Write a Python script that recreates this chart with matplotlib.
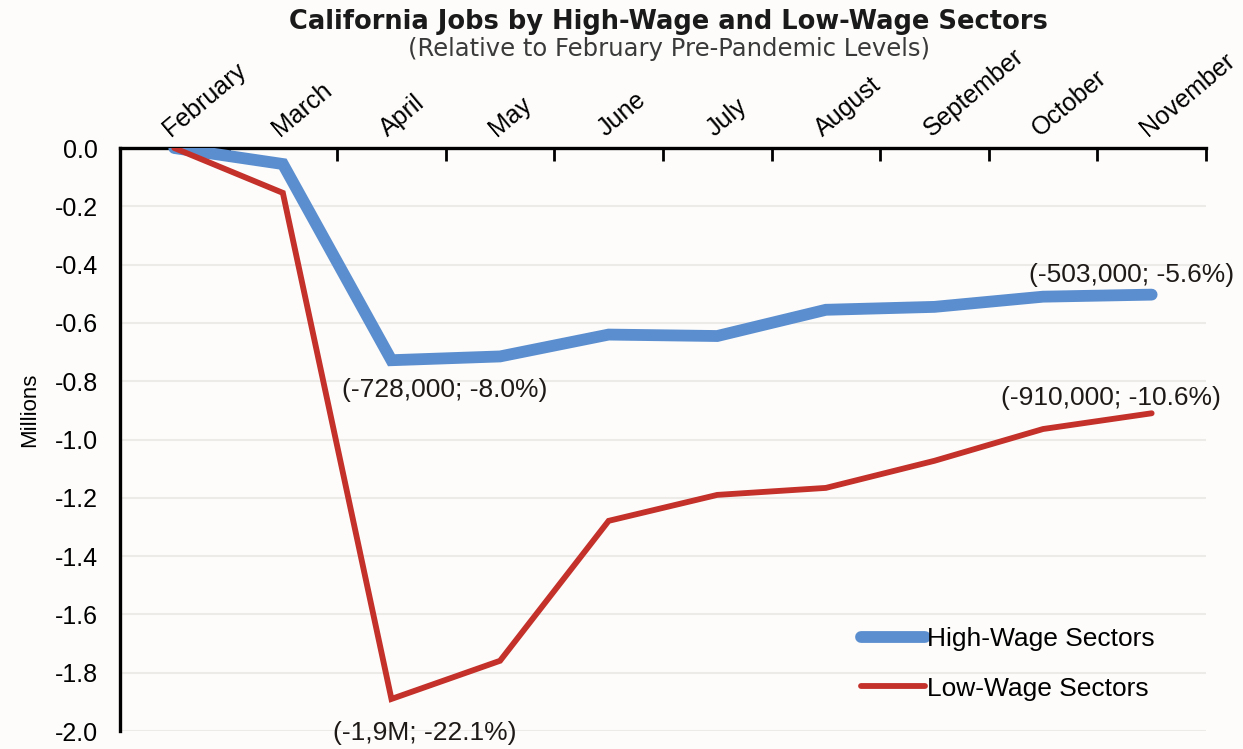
import matplotlib.pyplot as plt
import numpy as np

months = ["February", "March", "April", "May", "June", "July",
          "August", "September", "October", "November"]
high_wage = [0.0, -0.055, -0.728, -0.715, -0.640, -0.645,
             -0.555, -0.545, -0.510, -0.503]
low_wage = [0.0, -0.154, -1.890, -1.759, -1.279, -1.190,
            -1.166, -1.073, -0.964, -0.910]
y_ticks = [0.0, -0.2, -0.4, -0.6, -0.8, -1.0, -1.2, -1.4, -1.6, -1.8, -2.0]

plt.rcParams["font.family"] = ["Liberation Sans", "DejaVu Sans"]

blue = "#5B8ECF"
red = "#C4302A"
bg = "#FDFCFA"

fig = plt.figure(figsize=(12.43, 7.49), dpi=100)
fig.patch.set_facecolor(bg)
ax = fig.add_axes([0.0965, 0.0240, 0.8737, 0.7784])
ax.set_facecolor(bg)

x = np.arange(len(months))
ax.plot(x, high_wage, color=blue, linewidth=8.5, solid_joinstyle="miter",
        solid_capstyle="round", label="High-Wage Sectors", zorder=3)
ax.plot(x, low_wage, color=red, linewidth=4.2, solid_joinstyle="miter",
        solid_capstyle="round", label="Low-Wage Sectors", zorder=4)

ax.set_xlim(-0.5, len(months) - 0.5)
ax.set_ylim(-2.0, 0.0)
ax.set_yticks(y_ticks)
ax.set_yticklabels([f"{v:.1f}" if v != 0 else "0.0" for v in y_ticks])
ax.yaxis.grid(True, color="#ECEBE8", linewidth=1.5)
ax.set_axisbelow(True)

# month names along the top, tick marks sit between months
ax.xaxis.tick_top()
ax.set_xticks(x)
ax.set_xticklabels(months, rotation=40, ha="left", va="bottom",
                   rotation_mode="anchor", fontsize=18)
ax.set_xticks(np.arange(0.5, len(months), 1.0), minor=True)
ax.tick_params(axis="x", which="major", length=0, pad=5)
ax.tick_params(axis="x", which="minor", direction="in", length=9,
               width=2, top=True, bottom=False)
ax.tick_params(axis="y", length=0, pad=16, labelsize=18)

for side in ["right", "bottom"]:
    ax.spines[side].set_visible(False)
ax.spines["top"].set_linewidth(2.4)
ax.spines["left"].set_linewidth(2.4)

fig.text(30 / 1243, 1 - 410 / 749, "Millions", rotation=90, fontsize=16,
         ha="center", va="center")

lab_kw = dict(fontsize=19, color="#1E1A18", ha="center", va="center",
              textcoords="offset pixels")
ax.annotate(f"({high_wage[2] * 1e6:,.0f}; -8.0%)", (x[2], high_wage[2]),
            xytext=(53, -30), **lab_kw)
ax.annotate("(-1,9M; -22.1%)", (x[2], low_wage[2]),
            xytext=(33, -34), **lab_kw)
ax.annotate(f"({high_wage[-1] * 1e6:,.0f}; -5.6%)", (x[-1], high_wage[-1]),
            xytext=(-20, 20), **lab_kw)
ax.annotate(f"({low_wage[-1] * 1e6:,.0f}; -10.6%)", (x[-1], low_wage[-1]),
            xytext=(-41, 15), **lab_kw)

leg = ax.legend(loc="center", bbox_to_anchor=(0.811, 0.1135),
                bbox_transform=fig.transFigure, frameon=False,
                fontsize=19, handlelength=2.4, handletextpad=0.1,
                labelspacing=0.95)
for h in leg.get_lines():
    h.set_solid_capstyle("round")

fig.text(0.538, 0.970, "California Jobs by High-Wage and Low-Wage Sectors",
         ha="center", va="center", fontsize=18.5, fontweight="bold",
         family="DejaVu Sans", color="#1A1A1A")
fig.text(0.538, 0.935, "(Relative to February Pre-Pandemic Levels)",
         ha="center", va="center", fontsize=17.5, family="DejaVu Sans",
         color="#3A3A3A")

fig.savefig("out.png", dpi=100, facecolor=fig.get_facecolor())
